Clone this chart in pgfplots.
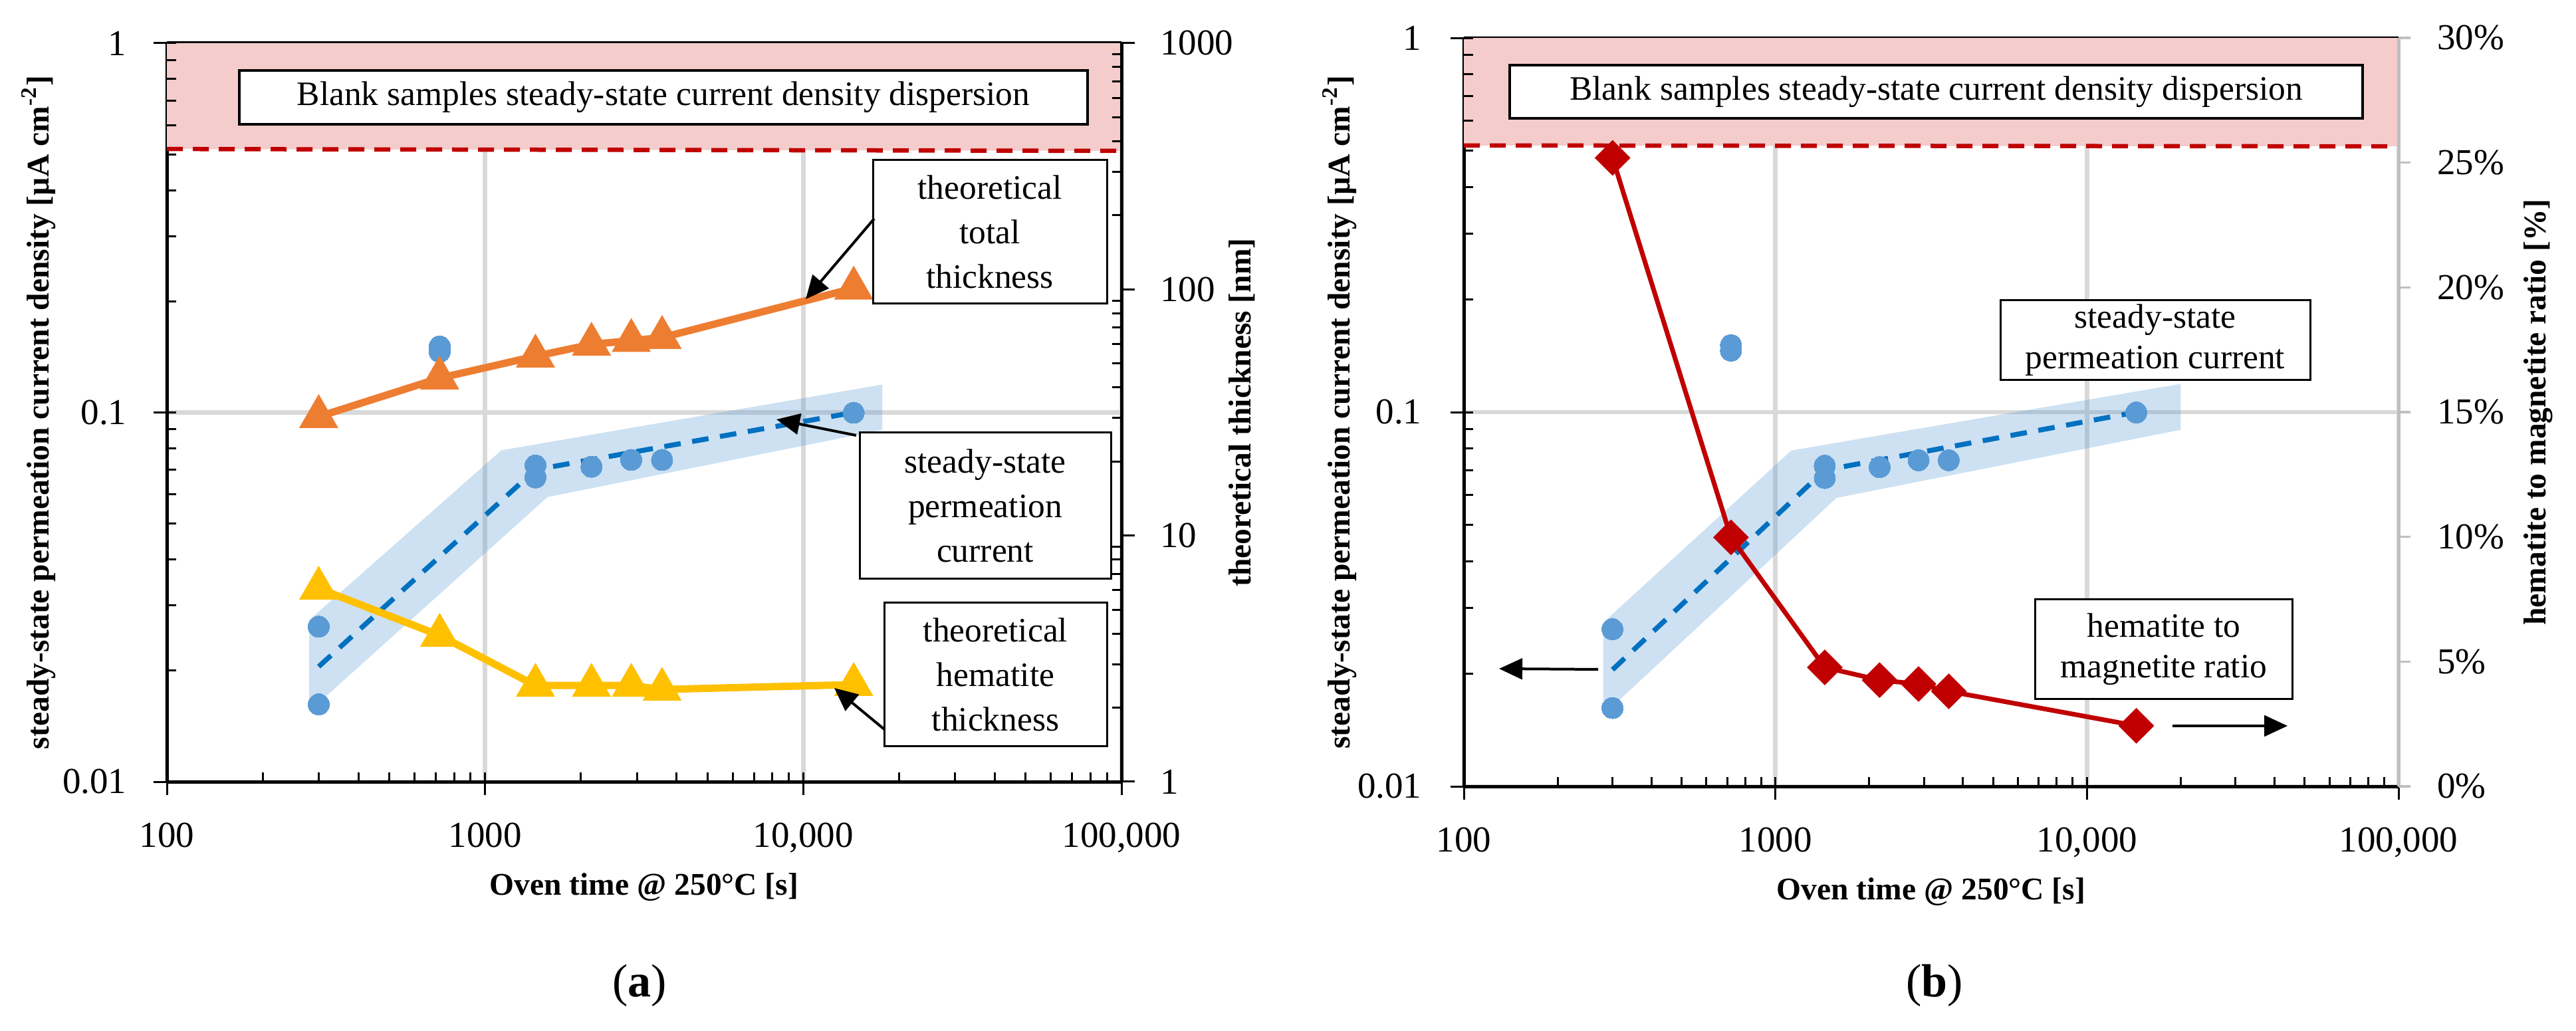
\documentclass[border=0pt]{standalone}
\usepackage{fontspec}
\setmainfont{Liberation Serif}
\usepackage{pgfplots}
\pgfplotsset{compat=1.18}
\usetikzlibrary{arrows.meta}

\definecolor{corange}{RGB}{237,125,49}
\definecolor{cyellow}{RGB}{255,192,0}
\definecolor{cblue}{RGB}{91,155,213}
\definecolor{cdblue}{RGB}{0,112,192}
\definecolor{cred}{RGB}{192,0,0}
\definecolor{cpink}{RGB}{244,204,204}
\definecolor{cgrid}{RGB}{217,217,217}
\definecolor{cgrayax}{RGB}{191,191,191}

\newcommand{\tickfont}{\fontsize{11}{12}\selectfont}
\newcommand{\labfont}{\fontsize{9.5}{10}\selectfont\bfseries}
\newcommand{\boxfont}{\fontsize{10.3}{13.4}\selectfont}

\begin{document}
\begin{tikzpicture}
\useasboundingbox (0pt,0pt) rectangle (775pt,310pt);

% ================= panel (a) =================
\begin{axis}[at={(50.2pt,74.8pt)}, anchor=south west,
  scale only axis, width=287.2pt, height=222.2pt,
  xmode=log, xmin=100, xmax=100000,
  ymode=log, ymin=0.01, ymax=1,
  axis x line*=box, axis y line*=left,
  xtick={100,1000,10000,100000},
  xticklabels={100,1000,{10,000},{100,000}},
  ytick={0.01,0.1,1}, yticklabels={0.01,0.1,1},
  xtick pos=left, ytick pos=left,
  tick align=outside, major tick length=4pt, minor tick length=0pt,
  grid=major, major grid style={color=cgrid, line width=1.3pt},
  axis line style={black, line width=1pt},
  tick style={black, line width=0.6pt},
  xticklabel style={font=\tickfont, yshift=-4.85pt},
  yticklabel style={font=\tickfont, xshift=-4.6pt},
  xlabel={Oven time @ 250°C [s]},
  ylabel={steady-state permeation current density [µA cm\textsuperscript{-2}]},
  xlabel style={font=\labfont, at={([yshift=-31.8pt]rel axis cs:0.5,0)}, anchor=center},
  ylabel style={font=\labfont, at={([xshift=-38.6pt]rel axis cs:0,0.5)}, anchor=center}]
  \addplot[draw=none, fill=cpink] coordinates {(100,0.517) (100000,0.511) (100000,1) (100,1) (100,0.517)};
  \addplot[cred, line width=1.3pt, dash pattern=on 4.8pt off 3pt] coordinates {(100,0.517) (100000,0.511)};
  \addplot[draw=none, fill=cblue, fill opacity=0.3] coordinates {(280,0.0155) (280,0.0274) (1125,0.079) (17700,0.119) (17700,0.0897) (1570,0.059) (280,0.0155)};
  \addplot[cdblue, line width=1.5pt, dash pattern=on 5pt off 3.5pt] coordinates {(300,0.0205) (1440,0.070) (14400,0.100)};
  \addplot[only marks, color=cblue, mark=*, mark size=3.2pt, mark options={fill=cblue, draw=cblue, line width=0pt}] coordinates {
    (300,0.0263) (300,0.0162) (720,0.151) (720,0.146) (1440,0.0719) (1440,0.0667)
    (2160,0.0713) (2880,0.0744) (3600,0.0744) (14400,0.0998)};
\end{axis}
\begin{axis}[at={(50.2pt,74.8pt)}, anchor=south west,
  scale only axis, width=287.2pt, height=222.2pt,
  xmode=log, xmin=100, xmax=100000,
  ymode=log, ymin=0.01, ymax=1,
  axis x line*=bottom, axis y line*=left,
  axis line style={draw=none},
  xtick={100,1000,10000,100000}, ytick={0.01,0.1,1},
  minor xtick={200,300,400,500,600,700,800,900,2000,3000,4000,5000,6000,7000,8000,9000,20000,30000,40000,50000,60000,70000,80000,90000},
  minor ytick={0.02,0.03,0.04,0.05,0.06,0.07,0.08,0.09,0.2,0.3,0.4,0.5,0.6,0.7,0.8,0.9},
  xticklabels={}, yticklabels={},
  tick align=inside, major tick length=2.8pt, minor tick length=2.8pt,
  tick style={black, line width=0.6pt}]
\end{axis}
\begin{axis}[at={(50.2pt,74.8pt)}, anchor=south west,
  scale only axis, width=287.2pt, height=222.2pt,
  xmode=log, xmin=100, xmax=100000,
  ymode=log, ymin=1, ymax=1000,
  axis x line=none, axis y line*=right,
  ytick={1,10,100,1000}, yticklabels={1,10,100,1000},
  tick align=outside, major tick length=4pt, minor tick length=0pt,
  axis line style={black, line width=1pt},
  tick style={black, line width=0.6pt},
  yticklabel style={font=\tickfont, xshift=4.1pt},
  ylabel={theoretical thickness [nm]},
  ylabel style={font=\labfont, at={([xshift=36.2pt]rel axis cs:1,0.5)}, anchor=center}]
  \addplot[corange, line width=2.2pt, mark=triangle*, mark size=4.6pt, mark options={solid, fill=corange, draw=none}] coordinates {
    (300,30.4) (720,43.6) (1440,53.5) (2160,59.8) (2880,61.9) (3600,63.7) (14400,101)};
  \addplot[cyellow, line width=2.2pt, mark=triangle*, mark size=4.6pt, mark options={solid, fill=cyellow, draw=none}] coordinates {
    (300,6.1) (720,3.93) (1440,2.46) (2160,2.46) (2880,2.46) (3600,2.37) (14400,2.48)};
\end{axis}
\begin{axis}[at={(50.2pt,74.8pt)}, anchor=south west,
  scale only axis, width=287.2pt, height=222.2pt,
  xmode=log, xmin=100, xmax=100000,
  ymode=log, ymin=1, ymax=1000,
  axis x line=none, axis y line*=right, axis line style={draw=none},
  ytick={1,10,100,1000}, yticklabels={},
  minor ytick={2,3,4,5,6,7,8,9,20,30,40,50,60,70,80,90,200,300,400,500,600,700,800,900},
  tick align=inside, major tick length=0pt, minor tick length=2.8pt,
  tick style={black, line width=0.6pt}]
\end{axis}

% ================= panel (b) =================
\begin{axis}[at={(440.4pt,73.4pt)}, anchor=south west,
  scale only axis, width=281.2pt, height=225.2pt,
  xmode=log, xmin=100, xmax=100000,
  ymode=log, ymin=0.01, ymax=1,
  axis x line*=box, axis y line*=left,
  xtick={100,1000,10000,100000},
  xticklabels={100,1000,{10,000},{100,000}},
  ytick={0.01,0.1,1}, yticklabels={0.01,0.1,1},
  xtick pos=left, ytick pos=left,
  tick align=outside, major tick length=4pt, minor tick length=0pt,
  grid=major, major grid style={color=cgrid, line width=1.3pt},
  axis line style={black, line width=1pt},
  tick style={black, line width=0.6pt},
  xticklabel style={font=\tickfont, yshift=-4.85pt},
  yticklabel style={font=\tickfont, xshift=-5.2pt},
  xlabel={Oven time @ 250°C [s]},
  ylabel={steady-state permeation current density [µA cm\textsuperscript{-2}]},
  xlabel style={font=\labfont, at={([yshift=-31.8pt]rel axis cs:0.5,0)}, anchor=center},
  ylabel style={font=\labfont, at={([xshift=-37.4pt]rel axis cs:0,0.5)}, anchor=center}]
  \addplot[draw=none, fill=cpink] coordinates {(100,0.516) (100000,0.513) (100000,1) (100,1) (100,0.516)};
  \addplot[cred, line width=1.3pt, dash pattern=on 4.8pt off 3pt] coordinates {(100,0.516) (100000,0.513)};
  \addplot[draw=none, fill=cblue, fill opacity=0.3] coordinates {(280,0.0155) (280,0.0274) (1125,0.079) (20000,0.119) (20000,0.0897) (1570,0.059) (280,0.0155)};
  \addplot[cdblue, line width=1.5pt, dash pattern=on 5pt off 3.5pt] coordinates {(300,0.0205) (1440,0.070) (14400,0.100)};
  \addplot[only marks, color=cblue, mark=*, mark size=3.2pt, mark options={fill=cblue, draw=cblue, line width=0pt}] coordinates {
    (300,0.0263) (300,0.0162) (720,0.151) (720,0.146) (1440,0.0719) (1440,0.0667)
    (2160,0.0713) (2880,0.0744) (3600,0.0744) (14400,0.0998)};
\end{axis}
\begin{axis}[at={(440.4pt,73.4pt)}, anchor=south west,
  scale only axis, width=281.2pt, height=225.2pt,
  xmode=log, xmin=100, xmax=100000,
  ymode=log, ymin=0.01, ymax=1,
  axis x line*=bottom, axis y line*=left,
  axis line style={draw=none},
  xtick={100,1000,10000,100000}, ytick={0.01,0.1,1},
  minor xtick={200,300,400,500,600,700,800,900,2000,3000,4000,5000,6000,7000,8000,9000,20000,30000,40000,50000,60000,70000,80000,90000},
  minor ytick={0.02,0.03,0.04,0.05,0.06,0.07,0.08,0.09,0.2,0.3,0.4,0.5,0.6,0.7,0.8,0.9},
  xticklabels={}, yticklabels={},
  tick align=inside, major tick length=2.8pt, minor tick length=2.8pt,
  tick style={black, line width=0.6pt}]
\end{axis}
\begin{axis}[at={(440.4pt,73.4pt)}, anchor=south west,
  scale only axis, width=281.2pt, height=225.2pt,
  xmode=log, xmin=100, xmax=100000,
  ymin=0, ymax=30,
  axis x line=none, axis y line*=right,
  ytick={0,5,10,15,20,25,30},
  yticklabels={0\%,5\%,10\%,15\%,20\%,25\%,30\%},
  tick align=outside, major tick length=3.6pt, minor tick length=0pt,
  axis line style={cgrayax, line width=1pt},
  tick style={cgrayax, line width=0.7pt},
  yticklabel style={font=\tickfont, xshift=4.5pt},
  ylabel={hematite to magnetite ratio [\%]},
  ylabel style={font=\labfont, at={([xshift=42pt]rel axis cs:1,0.5)}, anchor=center}]
  \addplot[cred, line width=1.4pt, mark=square*, mark size=3.1pt, mark options={solid, rotate=45, fill=cred, draw=none}] coordinates {
    (300,25.19) (720,9.98) (1440,4.77) (2160,4.26) (2880,4.10) (3600,3.81) (14400,2.43)};
\end{axis}

% ================= annotations =================
\tikzset{bx/.style={draw=black, fill=white, line width=0.6pt, inner sep=0pt, align=center, font=\boxfont}}
\tikzset{arr/.style={black, line width=0.8pt, -{Triangle[length=7pt,width=6.3pt]}}}

\node[bx, line width=0.8pt, minimum width=255.2pt, minimum height=16.2pt] at (199.6pt,280.7pt) {Blank samples steady-state current density dispersion};
\node[bx, minimum width=70.4pt, minimum height=43.2pt] at (297.8pt,240.2pt) {theoretical\\total\\thickness};
\node[bx, minimum width=75.6pt, minimum height=44pt] at (296.4pt,157.8pt) {steady-state\\permeation\\current};
\node[bx, minimum width=67pt, minimum height=43.2pt] at (299.5pt,107pt) {theoretical\\hematite\\thickness};
\draw[arr] (263pt,244.2pt) -- (242.4pt,220pt);
\draw[arr] (257.6pt,179pt) -- (233.6pt,183.8pt);
\draw[arr] (266pt,90.6pt) -- (251pt,103pt);

\node[bx, line width=0.8pt, minimum width=256.6pt, minimum height=16pt] at (582.5pt,282.4pt) {Blank samples steady-state current density dispersion};
\node[bx, minimum width=93.2pt, minimum height=24pt, font=\fontsize{10.3}{12.2}\selectfont] at (648.4pt,207.6pt) {steady-state\\permeation current};
\node[bx, minimum width=77.4pt, minimum height=30pt, font=\fontsize{10.3}{12.2}\selectfont] at (651pt,114.6pt) {hematite to\\magnetite ratio};
\draw[arr] (480.8pt,108.6pt) -- (451pt,108.8pt);
\draw[arr] (653.6pt,91.6pt) -- (688.2pt,91.6pt);

\node[font=\fontsize{14}{16}\selectfont] at (192.4pt,13.4pt) {(\textbf{a})};
\node[font=\fontsize{14}{16}\selectfont] at (582pt,13.4pt) {(\textbf{b})};
\end{tikzpicture}
\end{document}
